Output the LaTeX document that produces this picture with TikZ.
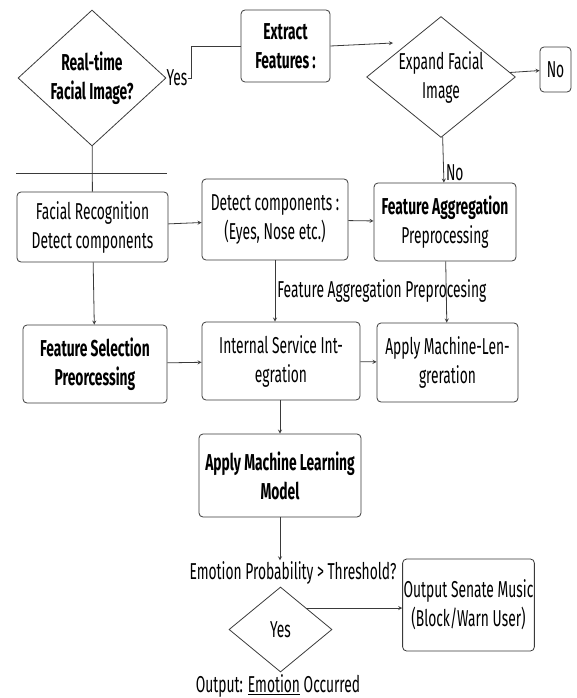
\documentclass[tikz,border=0pt]{standalone}
\usepackage{fontspec}
\setmainfont{Fira Sans}[FakeStretch=0.6]
\usetikzlibrary{shapes.geometric}
\definecolor{edge}{HTML}{3A3A3A}

\begin{document}
\begin{tikzpicture}[x=1pt, y=-1pt, >=stealth,
    font=\fontsize{23}{29}\selectfont,
    blk/.style={draw=edge, thick, rounded corners=4pt, align=center, inner sep=1pt},
    dec/.style={draw=edge, thick, diamond, align=center, inner sep=0pt},
    lnk/.style={draw=edge, thick}]
\useasboundingbox (0,0) rectangle (577,698);

% top row
\node[dec, aspect=1.09, minimum width=148, minimum height=136, font=\fontsize{23}{29}\selectfont\bfseries] (rt) at (92,78) {Real-time\\Facial Image?};
\node[blk, minimum width=89, minimum height=72, font=\fontsize{23}{29}\selectfont\bfseries] (ext) at (285.5,46) {Extract\\Features :};
\node[dec, aspect=1.23, minimum width=142, minimum height=115] (ef) at (441,77) {Expand Facial\\Image};
\node[blk, minimum width=31, minimum height=45] (no) at (555.5,69.5) {No};
\node[anchor=west, inner sep=0pt] (yes) at (rt.east) {Yes};
\coordinate (extend) at (393,43);

\draw[lnk] (16,173) -- (167,173);

% second row
\node[blk, minimum width=151, minimum height=70] (fr) at (92.5,227) {Facial Recognition\\Detect components};
\node[blk, minimum width=146, minimum height=81] (dc) at (275,219.5) {Detect components :\\(Eyes, Nose etc.)};
\node[blk, minimum width=142, minimum height=78] (fa) at (445,222) {\textbf{Feature Aggregation}\\Preprocessing};

% third row
\node[blk, minimum width=144, minimum height=78, font=\fontsize{23}{29}\selectfont\bfseries] (fs) at (95,364) {Feature Selection\\Preorcessing};
\node[blk, minimum width=158, minimum height=78] (is) at (281,361) {Internal Service Int-\\egration};
\node[blk, minimum width=141, minimum height=79] (am) at (447.5,362.5) {Apply Machine-Len-\\greration};

% bottom
\node[blk, minimum width=162, minimum height=83, font=\fontsize{23}{29}\selectfont\bfseries] (ml) at (280,475.5) {Apply Machine Learning\\Model};
\node[inner sep=1pt] (th) at (293,573) {Emotion Probability > Threshold?};
\node[dec, aspect=1.21, minimum width=103, minimum height=85] (yd) at (280.5,629.5) {Yes};
\node[blk, minimum width=131, minimum height=92] (out) at (468.5,605) {Output Senate Music\\(Block/Warn User)};
\node[inner sep=1pt] (oc) at (278,686) {Output: \underline{Emotion} Occurred};

% connectors
\draw[lnk] (rt) -- (fr);
\draw[lnk] (yes.east) -- ++(4,0) |- (ext.west);
\draw[lnk, ->] (ext.east) -- (extend);
\draw[lnk, ->] (ef) -- (no);
\draw[lnk, ->] (ef) -- (fa) node[pos=0.78, right, inner sep=2pt]{No};
\draw[lnk, ->] (fr) -- (dc);
\draw[lnk, ->] (dc) -- (fa);
\draw[lnk, ->] (fr) -- (fs);
\draw[lnk, ->] (fs) -- (is);
\draw[lnk, ->] (dc.south) -- (dc.south |- is.north) node[midway, anchor=west, inner sep=2pt]{Feature Aggregation Preprocesing};
\draw[lnk, ->] (fa) -- (am);
\draw[lnk, ->] (is) -- (am);
\draw[lnk, ->] (is.south -| ml.north) -- (ml.north);
\draw[lnk, ->] (ml.south) -- (ml.south |- th.north);
\draw[lnk, ->] (yd.north east) -- (yd.north east -| out.west);

\end{tikzpicture}
\end{document}
